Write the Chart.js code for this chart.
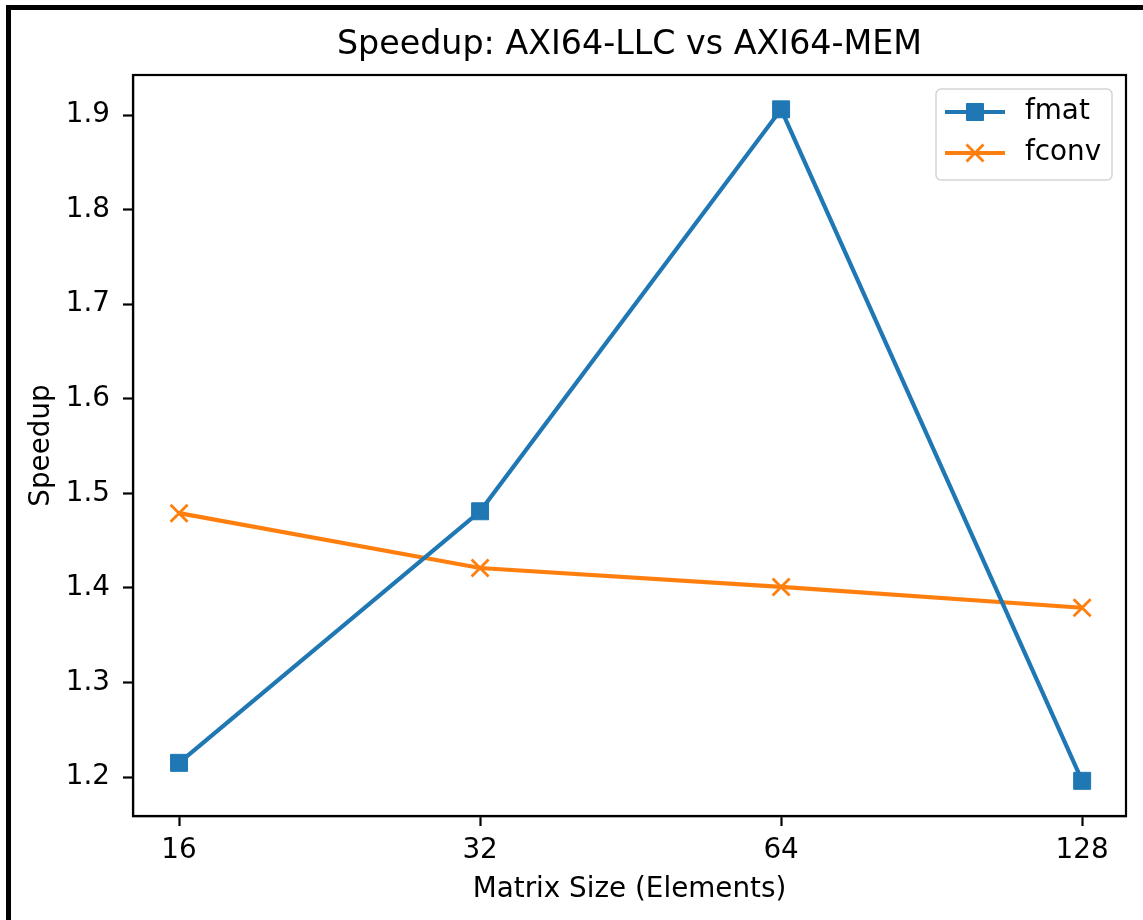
<!DOCTYPE html>
<html>
<head>
<meta charset="utf-8">
<script src="https://cdn.jsdelivr.net/npm/chart.js@4.4.1/dist/chart.umd.min.js"></script>
<style>
  html, body { margin: 0; padding: 0; background: #fff; }
  #wrap { width: 1143px; height: 920px; }
</style>
</head>
<body>
<div id="wrap"><canvas id="chart" width="1143" height="920"></canvas></div>
<script>
// dados
const sizes = [16, 32, 64, 128];
const fmat = [1.215, 1.481, 1.906, 1.196];
const fconv = [1.479, 1.421, 1.401, 1.379];
const yTicks = [1.2, 1.3, 1.4, 1.5, 1.6, 1.7, 1.8, 1.9];
const seriesNames = ['fmat', 'fconv'];
const chartTitle = 'Speedup: AXI64-LLC vs AXI64-MEM';

const BLUE = '#1f77b4';
const ORANGE = '#ff7f0e';
const FONT = 'DejaVu Sans';

// moldura preta, titulo e caixa do eixo
const framePlugin = {
  id: 'frame',
  beforeDraw(chart) {
    const ctx = chart.ctx;
    const a = chart.chartArea;
    ctx.save();
    ctx.fillStyle = '#fff';
    ctx.fillRect(0, 0, chart.width, chart.height);
    ctx.fillStyle = '#000';
    ctx.fillRect(6, 5, chart.width - 6, 5);
    ctx.fillRect(6, 5, 5, chart.height - 5);
    // titulo centrado na area do grafico
    ctx.font = '33.3px "' + FONT + '"';
    ctx.textAlign = 'center';
    ctx.textBaseline = 'middle';
    ctx.fillText(chartTitle, (a.left + a.right) / 2, 45);
    ctx.restore();
  },
  afterDatasetsDraw(chart) {
    const a = chart.chartArea;
    const ctx = chart.ctx;
    ctx.save();
    ctx.strokeStyle = '#000';
    ctx.lineWidth = 2.2;
    ctx.strokeRect(a.left, a.top, a.right - a.left, a.bottom - a.top);
    ctx.restore();
  }
};

// legenda estilo matplotlib
const legendPlugin = {
  id: 'mplLegend',
  afterDraw(chart) {
    const ctx = chart.ctx;
    const x0 = 936, y0 = 89, w = 176, h = 91;
    ctx.save();
    ctx.fillStyle = 'rgba(255,255,255,0.8)';
    ctx.strokeStyle = '#d5d5d5';
    ctx.lineWidth = 1.5;
    ctx.beginPath();
    ctx.roundRect(x0, y0, w, h, 5);
    ctx.fill();
    ctx.stroke();
    chart.data.datasets.forEach((ds, i) => {
      const y = 112 + i * 41;
      ctx.strokeStyle = ds.borderColor;
      ctx.lineWidth = ds.borderWidth;
      ctx.beginPath();
      ctx.moveTo(945, y);
      ctx.lineTo(1005, y);
      ctx.stroke();
      ctx.fillStyle = ds.pointBackgroundColor;
      ctx.strokeStyle = ds.pointBorderColor;
      ctx.lineWidth = ds.pointBorderWidth;
      Chart.helpers.drawPoint(ctx, { pointStyle: ds.pointStyle, rotation: 0, radius: ds.pointRadius, borderWidth: ds.pointBorderWidth }, 975, y);
      ctx.fillStyle = '#000';
      ctx.font = '27.8px "' + FONT + '"';
      ctx.textBaseline = 'middle';
      ctx.textAlign = 'left';
      ctx.fillText(ds.label, 1025, y);
    });
    ctx.restore();
  }
};

function pontos(vals) {
  return sizes.map((s, i) => ({ x: s, y: vals[i] }));
}

new Chart(document.getElementById('chart'), {
  type: 'line',
  data: {
    datasets: [
      { label: seriesNames[0], data: pontos(fmat), borderColor: BLUE, backgroundColor: BLUE,
        pointBackgroundColor: BLUE, pointBorderColor: BLUE, borderWidth: 4.2,
        pointStyle: 'rect', pointRadius: 12, pointBorderWidth: 1, pointHoverRadius: 12, tension: 0 },
      { label: seriesNames[1], data: pontos(fconv), borderColor: ORANGE, backgroundColor: ORANGE,
        pointBackgroundColor: ORANGE, pointBorderColor: ORANGE, borderWidth: 4.2,
        pointStyle: 'crossRot', pointRadius: 12, pointBorderWidth: 2.8, pointHoverRadius: 12, tension: 0 }
    ]
  },
  options: {
    responsive: false,
    animation: false,
    layout: { padding: { left: 0, top: 75, right: 17, bottom: 0 } },
    plugins: {
      legend: { display: false },
      tooltip: { enabled: false },
      title: { display: false }
    },
    scales: {
      x: {
        type: 'logarithmic',
        min: 14.39,
        max: 141.6,
        afterBuildTicks: s => { s.ticks = sizes.map(v => ({ value: v })); },
        afterFit: s => { s.height = 104; },
        ticks: { color: '#000', font: { family: FONT, size: 27.8 }, padding: 8, callback: v => String(v), maxRotation: 0, autoSkip: false },
        grid: { display: true, drawOnChartArea: false, drawTicks: true, tickLength: 10, tickWidth: 2.2, tickColor: '#000' },
        border: { display: true, color: '#000', width: 2.2 },
        title: { display: true, text: 'Matrix Size (Elements)', color: '#000', font: { family: FONT, size: 27.8 }, padding: { top: 17, bottom: 14 } }
      },
      y: {
        min: 1.1588,
        max: 1.9423,
        afterBuildTicks: s => { s.ticks = yTicks.map(v => ({ value: v })); },
        afterFit: s => { s.width = 133; },
        ticks: { color: '#000', font: { family: FONT, size: 27.8 }, padding: 13, callback: v => v.toFixed(1) },
        grid: { display: true, drawOnChartArea: false, drawTicks: true, tickLength: 10, tickWidth: 2.2, tickColor: '#000' },
        border: { display: true, color: '#000', width: 2.2 },
        title: { display: true, text: 'Speedup', color: '#000', font: { family: FONT, size: 27.8 }, padding: { top: 25, bottom: 0 } }
      }
    }
  },
  plugins: [framePlugin, legendPlugin]
});
</script>
</body>
</html>
